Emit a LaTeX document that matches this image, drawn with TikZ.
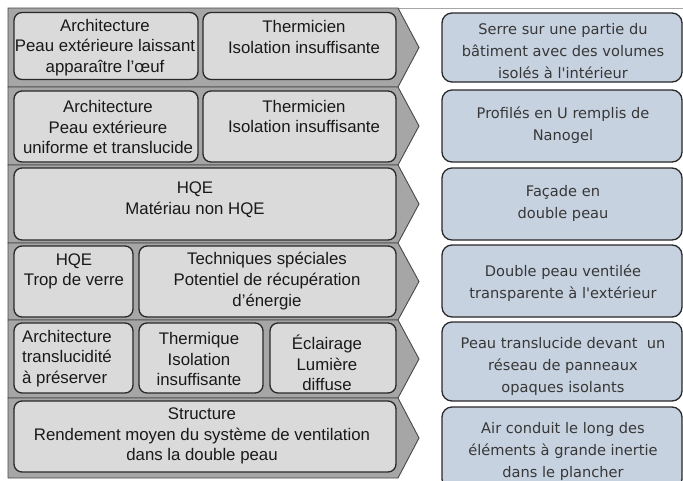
\documentclass[tikz,border=0pt]{standalone}
\usepackage{fontspec}
\setmainfont{Liberation Sans}
\newfontfamily\rfont{DejaVu Sans}
\definecolor{bandc}{RGB}{166,166,166}
\definecolor{lboxc}{RGB}{218,218,218}
\definecolor{rboxc}{RGB}{199,210,224}
\definecolor{edgec}{RGB}{40,40,40}
\definecolor{rtextc}{RGB}{55,55,55}
\begin{document}
\begin{tikzpicture}[x=1pt,y=-1pt,
  bandshape/.style={fill=bandc, draw=edgec!85, line width=0.9pt, line join=miter},
  lbx/.style={draw=edgec, fill=lboxc, rounded corners=8pt, line width=1.3pt, inner sep=0pt},
  ltx/.style={font=\fontsize{16.8}{20.7}\selectfont, align=center, text=black!90, inner sep=0pt},
  rbx/.style={draw=edgec, fill=rboxc, rounded corners=10pt, line width=1.3pt, inner sep=0pt},
  rtx/.style={font=\rfont\fontsize{14.6}{22}\selectfont, align=center, text=rtextc, inner sep=0pt}]
\useasboundingbox (0,0) rectangle (683,480);
\clip (0,0) rectangle (683,480);
\fill[white] (0,0) rectangle (683,480);
% top line
\draw[gray!70, line width=0.8pt] (8,8) -- (683,8);
% bands
\foreach \t/\b in {8/87, 87/165, 165/243, 243/320, 320/398, 398/478}{
  \draw[bandshape] (8,\t) -- (398,\t) -- (419,{(\t+\b)/2}) -- (398,\b) -- (8,\b) -- cycle;
}
% row 1
\node[lbx, minimum width=184pt, minimum height=67pt] (a1) at (106,46) {};
\node[lbx, minimum width=193pt, minimum height=67pt] (b1) at (299.5,46) {};
\node[ltx] (a1t) at (105,47.5) {Architecture\\Peau extérieure laissant\\apparaître l'œuf};
\node[ltx] (b1t) at (304,37) {Thermicien\\Isolation insuffisante};
% row 2
\node[lbx, minimum width=184pt, minimum height=71pt] (a2) at (106,126.5) {};
\node[lbx, minimum width=193pt, minimum height=71pt] (b2) at (299.5,126.5) {};
\node[ltx] (a2t) at (108,127) {Architecture\\Peau extérieure\\uniforme et translucide};
\node[ltx] (b2t) at (304,116.5) {Thermicien\\Isolation insuffisante};
% row 3
\node[lbx, minimum width=382pt, minimum height=72pt] (a3) at (205,204) {};
\node[ltx] (a3t) at (195,200) {HQE\\Matériau non HQE};
% row 4
\node[lbx, minimum width=119pt, minimum height=71pt] (a4) at (73.5,281.5) {};
\node[lbx, minimum width=257pt, minimum height=71pt] (b4) at (267.5,281.5) {};
\node[ltx] (a4t) at (74,271.5) {HQE\\Trop de verre};
\node[ltx] (b4t) at (267,281) {Techniques spéciales\\Potentiel de récupération\\d'énergie};
% row 5
\node[lbx, minimum width=119pt, minimum height=70pt] (a5) at (73.5,358) {};
\node[lbx, minimum width=124pt, minimum height=70pt] (b5) at (201,358) {};
\node[lbx, minimum width=126pt, minimum height=70pt] (c5) at (333,358) {};
\node[ltx, align=left, anchor=west] (a5t) at (22,358.5) {Architecture\\translucidité\\à préserver};
\node[ltx] (b5t) at (199,359) {Thermique\\Isolation\\insuffisante};
\node[ltx] (c5t) at (327,363) {Éclairage\\Lumière\\diffuse};
% row 6
\node[lbx, minimum width=382pt, minimum height=71pt] (a6) at (205,436.5) {};
\node[ltx] (a6t) at (202,436) {Structure\\Rendement moyen du système de ventilation\\dans la double peau};
% right column
\node[rbx, minimum width=240pt, minimum height=69pt] (r1) at (562,47.5) {};
\node[rbx, minimum width=240pt, minimum height=72pt] (r2) at (562,126) {};
\node[rbx, minimum width=240pt, minimum height=72pt] (r3) at (562,204) {};
\node[rbx, minimum width=240pt, minimum height=72pt] (r4) at (562,281) {};
\node[rbx, minimum width=240pt, minimum height=79pt] (r5) at (562,361.5) {};
\node[rbx, minimum width=240pt, minimum height=82pt] (r6) at (562,448) {};
\node[rtx] (r1t) at (563,51) {Serre sur une partie du\\bâtiment avec des volumes\\isolés à l'intérieur};
\node[rtx] (r2t) at (563,125) {Profilés en U remplis de\\Nanogel};
\node[rtx] (r3t) at (563,203.5) {Façade en\\double peau};
\node[rtx] (r4t) at (563,283.5) {Double peau ventilée\\transparente à l'extérieur};
\node[rtx] (r5t) at (563,366) {Peau translucide devant~ un\\réseau de panneaux\\opaques isolants};
\node[rtx] (r6t) at (563,451) {Air conduit le long des\\éléments à grande inertie\\dans le plancher};
\end{tikzpicture}
\end{document}
